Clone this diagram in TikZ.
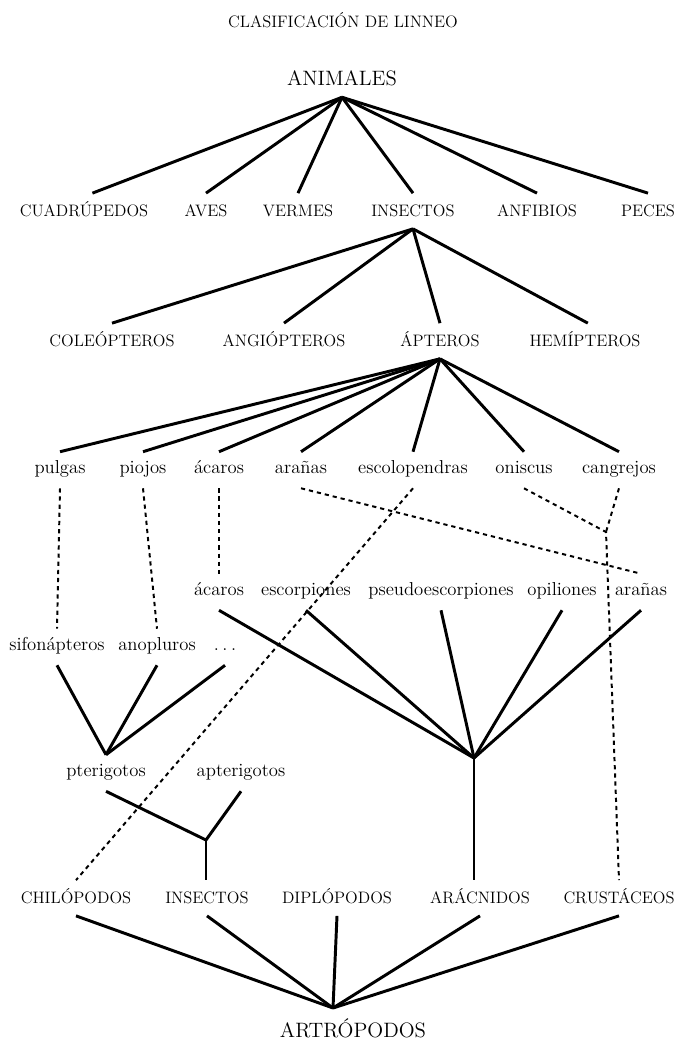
\documentclass[tikz,border=0pt]{standalone}
\begin{document}
\begin{tikzpicture}[x=0.025cm,y=-0.025cm,
    titulo/.style={font=\fontsize{11.8}{14}\selectfont},
    tronco/.style={font=\fontsize{14.8}{17}\selectfont,text height=10pt,text depth=0pt,inner ysep=8.5pt},
    grupo/.style={font=\fontsize{11.8}{14}\selectfont,text height=8pt,text depth=0pt,inner ysep=8.5pt},
    especie/.style={font=\fontsize{13.3}{15}\selectfont,text height=5.6pt,text depth=0pt,inner ysep=10pt},
    rama/.style={line width=2.1pt},
    enlace/.style={line width=1.4pt,dash pattern=on 3pt off 2.8pt}]
    \useasboundingbox (0,0) rectangle (678,1039);
    \node[titulo] (titulo) at (343,20) {CLASIFICACIÓN DE LINNEO};
    \node[tronco] (animales) at (342,78) {ANIMALES};
    \node[grupo] (cuadrupedos) at (84,211) {CUADRÚPEDOS};
    \node[grupo] (aves) at (206,211) {AVES};
    \node[grupo] (vermes) at (298,211) {VERMES};
    \node[grupo] (insectos) at (413,211) {INSECTOS};
    \node[grupo] (anfibios) at (537,211) {ANFIBIOS};
    \node[grupo] (peces) at (648,211) {PECES};
    \node[grupo] (coleopteros) at (112,341) {COLEÓPTEROS};
    \node[grupo] (angiopteros) at (284,341) {ANGIÓPTEROS};
    \node[grupo] (apteros) at (440,341) {ÁPTEROS};
    \node[grupo] (hemipteros) at (585,341) {HEMÍPTEROS};
    \node[especie] (pulgas) at (60,470) {pulgas};
    \node[especie] (piojos) at (143,470) {piojos};
    \node[especie] (acaros) at (219,470) {ácaros};
    \node[especie] (aranas) at (301,470) {arañas};
    \node[especie] (escolopendras) at (413,470) {escolopendras};
    \node[especie] (oniscus) at (524,470) {oniscus};
    \node[especie] (cangrejos) at (619,470) {cangrejos};
    \node[especie] (acarosb) at (219,592) {ácaros};
    \node[especie] (escorpiones) at (306,592) {escorpiones};
    \node[especie] (pseudo) at (441,592) {pseudoescorpiones};
    \node[especie] (opiliones) at (562,592) {opiliones};
    \node[especie] (aranasb) at (641,592) {arañas};
    \node[especie] (sifonapteros) at (57,647) {sifonápteros};
    \node[especie] (anopluros) at (157,647) {anopluros};
    \node[especie] (otros) at (225,647) {.\kern2.5pt.\kern2.5pt.};
    \node[especie] (pterigotos) at (106,773) {pterigotos};
    \node[especie] (apterigotos) at (241,773) {apterigotos};
    \node[grupo] (chilopodos) at (76,898) {CHILÓPODOS};
    \node[grupo] (insectosb) at (207,898) {INSECTOS};
    \node[grupo] (diplopodos) at (337,898) {DIPLÓPODOS};
    \node[grupo] (aracnidos) at (480,898) {ARÁCNIDOS};
    \node[grupo] (crustaceos) at (619,898) {CRUSTÁCEOS};
    \node[tronco] (artropodos) at (353,1030) {ARTRÓPODOS};
    \coordinate (nudoarac) at (474,758);
    \coordinate (nudoins) at (206,840);
    \coordinate (nudocrus) at (606,532);
    \coordinate (nudoart) at (333,1008);
    \draw[rama] (animales.south) edge ([xshift=6pt]cuadrupedos.north) edge (aves.north) edge (vermes.north)
        edge (insectos.north) edge (anfibios.north) edge (peces.north);
    \draw[rama] (insectos.south) edge (coleopteros.north) edge (angiopteros.north)
        edge (apteros.north) edge ([xshift=2pt]hemipteros.north);
    \draw[rama] (apteros.south) edge (pulgas.north) edge (piojos.north) edge (acaros.north)
        edge (aranas.north) edge (escolopendras.north) edge (oniscus.north) edge (cangrejos.north);
    \draw[rama] (nudoarac) edge (acarosb.south) edge (escorpiones.south) edge (pseudo.south)
        edge (opiliones.south) edge (aranasb.south) edge (nudoarac |- aracnidos.north);
    \draw[rama] (pterigotos.north) edge (sifonapteros.south) edge (anopluros.south) edge (otros.south);
    \draw[rama] (nudoins) edge (pterigotos.south) edge (apterigotos.south) edge (nudoins |- insectosb.north);
    \draw[rama] (nudoart) edge (chilopodos.south) edge (insectosb.south) edge (diplopodos.south)
        edge (aracnidos.south) edge (crustaceos.south);
    \draw[enlace] (pulgas.south) -- (sifonapteros.north);
    \draw[enlace] (piojos.south) -- (anopluros.north);
    \draw[enlace] (acaros.south) -- (acarosb.north);
    \draw[enlace] (aranas.south) -- (aranasb.north);
    \draw[enlace] (escolopendras.south) -- (chilopodos.north);
    \draw[enlace] (oniscus.south) -- (nudocrus) -- (crustaceos.north);
    \draw[enlace] (cangrejos.south) -- (nudocrus);
\end{tikzpicture}
\end{document}
